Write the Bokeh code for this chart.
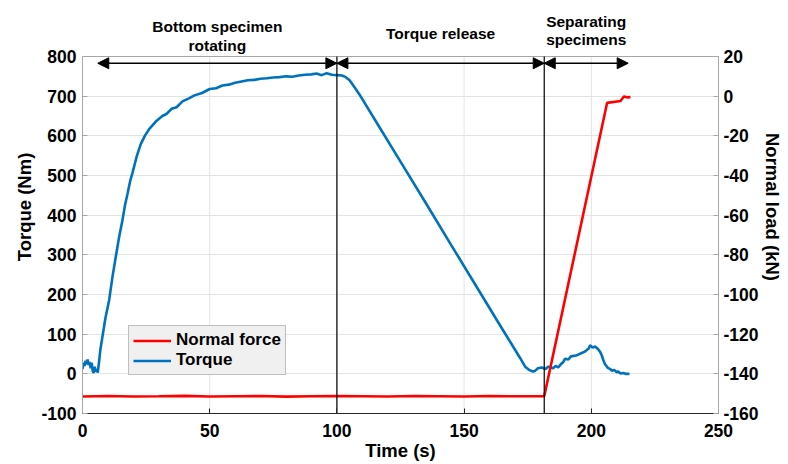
from bokeh.plotting import figure
from bokeh.models import (Range1d, LinearAxis, Arrow, NormalHead, Label,
                          Legend, LegendItem, FixedTicker)
from bokeh.embed import file_html
from bokeh.resources import INLINE

# ---------------- data ----------------
time_torque = [0, 0.4, 0.8, 1.2, 1.6, 2.0, 2.4, 2.8, 3.2, 3.6, 4.0, 4.4, 4.8, 5.2, 5.6, 6.0,
               6.5, 7.0, 7.9, 9.0, 10.5, 11.8, 13.1, 14.4, 15.7, 16.7, 17.7, 18.7, 19.7,
               21.3, 22.9, 24.5, 26.2, 28.8, 31.4, 33, 35, 37, 39.3, 42, 44, 47, 50, 52.5,
               55, 57.5, 60, 62.5, 65, 67.5, 70, 72.5, 75, 77.5, 80, 82.5, 85, 87.5, 90,
               92, 94, 96, 98, 100, 102, 103.5, 105, 107, 108.8, 115, 125, 135, 145,
               155.8, 165, 172, 174, 175.5, 177, 178, 179, 180.5, 182, 183, 185, 186,
               187, 188, 189, 189.7, 191, 192, 194, 196, 197.5, 199, 199.5, 200.5,
               201.5, 202.7, 203.5, 204.2, 204.7, 205.4, 206.5, 207.5, 208, 209, 210,
               210.6, 211.5, 212.5, 213.5, 215]
torque = [12, 28, 20, 33, 24, 36, 22, 30, 14, 28, 8, 2, 18, 6, 12, 3,
          30, 60, 96, 140, 187, 245, 296, 345, 387, 425, 454, 485, 508,
          548, 579, 600, 617, 636, 650, 655, 668, 672, 687, 695, 702, 708, 718, 720,
          727, 729, 734, 737, 740, 741, 744, 745, 747, 748, 750, 749, 752, 754, 755,
          757, 753, 758, 754, 753, 752, 748, 740, 722, 705, 640, 535, 430, 324,
          210, 113, 40, 18, 10, 6, 8, 14, 16, 12, 18, 14, 20,
          16, 24, 30, 38, 36, 44, 46, 52, 56, 64, 72, 66,
          69, 62, 55, 45, 35, 24, 15, 12, 8, 10, 4,
          6, 1, 2, 0, 0]

time_force = [0, 10, 20, 30, 40, 50, 60, 70, 80, 90, 100, 110, 120, 130, 140, 150, 160,
              170, 181.5, 206.2, 211.5, 212.8, 214, 215.4]
normal_force = [-151.4, -151.2, -151.4, -151.3, -151.1, -151.4, -151.3, -151.2, -151.5,
                -151.3, -151.2, -151.3, -151.4, -151.2, -151.3, -151.4, -151.2, -151.3,
                -151.3, -3.4, -2.4, -0.2, -0.6, -0.5]

x_ticks = [0, 50, 100, 150, 200, 250]
torque_ticks = [-100, 0, 100, 200, 300, 400, 500, 600, 700, 800]
load_ticks = [-160, -140, -120, -100, -80, -60, -40, -20, 0, 20]

phase_labels = [["Bottom specimen", "rotating"], ["Torque release"], ["Separating", "specimens"]]
phase_start = [6, 100, 181.5]
phase_end = [100, 181.5, 214.5]

# ---------------- layout constants ----------------
FONT = "Liberation Sans"
W, H = 788, 464
BORDER_L, BORDER_R, BORDER_B = 82, 70, 51
AX_TOP_PX = 56                      # pixel row of the axes' top edge
X0, X1 = x_ticks[0], x_ticks[-1]
T0, T1 = torque_ticks[0], torque_ticks[-1]
L0, L1 = load_ticks[0], load_ticks[-1]
frame_h = H - BORDER_B
t_top = T1 + AX_TOP_PX * (T1 - T0) / (frame_h - AX_TOP_PX)
l_top = L0 + (t_top - T0) * (L1 - L0) / (T1 - T0)

p = figure(width=W, height=H, output_backend="svg", toolbar_location=None,
           x_range=Range1d(X0, X1), y_range=Range1d(T0, t_top),
           min_border_left=BORDER_L, min_border_right=BORDER_R,
           min_border_top=0, min_border_bottom=BORDER_B,
           background_fill_color="white", border_fill_color="white")
p.outline_line_color = None
p.xgrid.visible = False
p.ygrid.grid_line_color = "#e3e3e3"
p.ygrid.grid_line_width = 1

p.extra_y_ranges = {"load": Range1d(L0, l_top)}

def style_axis(ax, line_color, ticks):
    ax.ticker = FixedTicker(ticks=ticks)
    ax.major_label_overrides = {t: str(t) for t in ticks}
    ax.major_label_text_font = FONT
    ax.major_label_text_font_style = "bold"
    ax.major_label_text_font_size = "17.5px"
    ax.major_label_text_color = "black"
    ax.axis_label_text_font = FONT
    ax.axis_label_text_font_style = "bold"
    ax.axis_label_text_font_size = "18.5px"
    ax.axis_label_text_color = "black"
    ax.major_tick_in = 5
    ax.major_tick_out = 0
    ax.minor_tick_line_color = None
    ax.axis_line_color = line_color
    ax.major_tick_line_color = line_color

xax = p.xaxis[0]
xax.axis_label = "Time (s)"
style_axis(xax, "#262626", x_ticks)
xax.major_label_standoff = 10
xax.axis_label_standoff = 0

yax = p.yaxis[0]
yax.axis_label = "Torque (Nm)"
style_axis(yax, "#a6a6a6", torque_ticks)
yax.bounds = (T0, T1)
yax.major_label_standoff = 6
yax.axis_label_standoff = 3

rax = LinearAxis(y_range_name="load", axis_label="Normal load (kN)")
style_axis(rax, "#a6a6a6", load_ticks)
rax.bounds = (L0, L1)
rax.major_label_standoff = 5
rax.axis_label_standoff = 0
p.add_layout(rax, "right")

# vertical grid lines and top edge of the axes box
p.segment(x0=x_ticks[1:-1], y0=[T0] * (len(x_ticks) - 2), x1=x_ticks[1:-1],
          y1=[T1] * (len(x_ticks) - 2), line_color="#e3e3e3", line_width=1)
p.segment(x0=[X0], y0=[T1], x1=[X1], y1=[T1], line_color="#a6a6a6", line_width=1)

# ---------------- data lines ----------------
r_torque = p.line(time_torque, torque, line_color="#0072BD", line_width=2.6)
r_force = p.line(time_force, normal_force, line_color="#FF0000", line_width=2.6,
                 y_range_name="load")

# ---------------- phase markers ----------------
bounds = phase_end[:-1]
p.segment(x0=bounds, y0=[T0] * len(bounds), x1=bounds, y1=[T1] * len(bounds),
          line_color="black", line_width=1.2)

arrow_y = 783
label_rows = [[876, 828], [858], [888, 843]]
for names, s, e, ys in zip(phase_labels, phase_start, phase_end, label_rows):
    p.add_layout(Arrow(x_start=s, y_start=arrow_y, x_end=e, y_end=arrow_y, line_width=1.5,
                       line_color="black",
                       start=NormalHead(size=11, fill_color="black", line_color="black"),
                       end=NormalHead(size=11, fill_color="black", line_color="black")))
    for txt, yy in zip(names, ys):
        p.add_layout(Label(x=(s + e) / 2, y=yy, text=txt, text_align="center",
                           text_baseline="middle", text_font=FONT, text_font_style="bold",
                           text_font_size="15.5px", text_color="black"))

# ---------------- legend ----------------
legend = Legend(items=[LegendItem(label="Normal force", renderers=[r_force]),
                       LegendItem(label="Torque", renderers=[r_torque])],
                location=(46, 38), orientation="vertical",
                background_fill_color="#f0f0f0", background_fill_alpha=1,
                border_line_color="#8c8c8c", border_line_width=1,
                label_text_font=FONT, label_text_font_style="bold",
                label_text_font_size="17px", label_text_color="black",
                label_text_line_height=1.0,
                glyph_width=38, glyph_height=17, label_height=17, label_standoff=5,
                padding=4, spacing=0, margin=0)
p.add_layout(legend)

open("out.html", "w").write(file_html(p, INLINE))
